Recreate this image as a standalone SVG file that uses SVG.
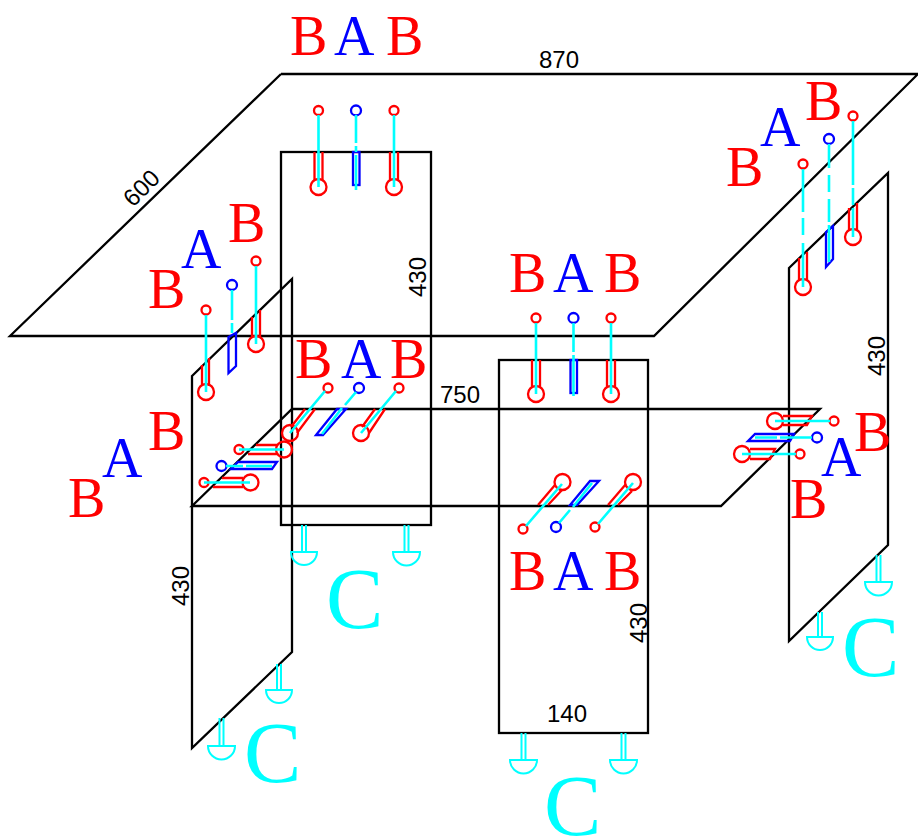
<svg xmlns="http://www.w3.org/2000/svg" width="918" height="836" viewBox="0 0 918 836">
<style>
.k{fill:none;stroke:#000;stroke-width:2.300}
.r{fill:none;stroke:#f00;stroke-width:2.300}
.b{fill:none;stroke:#00f;stroke-width:2.300}
.c{fill:none;stroke:#0ff;stroke-width:2.600}
.f{fill:none;stroke:#0ff;stroke-width:2}
.t{font-family:"Liberation Sans",Arial,sans-serif;font-size:24px;fill:#000}
.l{font-family:"Liberation Serif","Times New Roman",serif;font-size:56px}
.lr{fill:#f00}.lb{fill:#00f}
.lc{font-family:"Liberation Serif","Times New Roman",serif;font-size:86px;fill:#0ff}
</style>
<rect width="918" height="836" fill="#fff"/>
<g id="top-plate"><path class="k" d="M281 74H918M918 74L654 336H10L281 74"/><text class="t" x="539" y="68">870</text><text class="t" transform="translate(133,208) rotate(-45)">600</text></g>
<g id="back-panel"><rect class="k" x="281" y="152" width="150" height="373"/><text class="t" transform="translate(426,297) rotate(-90)">430</text></g>
<g id="left-panel"><path class="k" d="M192 376L292 279V652L192 748Z"/><text class="t" transform="translate(189,606) rotate(-90)">430</text></g>
<g id="center-panel"><rect class="k" x="499" y="360" width="149" height="373"/><text class="t" x="547" y="722">140</text><text class="t" transform="translate(647,643) rotate(-90)">430</text></g>
<g id="right-panel"><path class="k" d="M789 268L888 173V545L789 641Z"/><text class="t" transform="translate(885,376) rotate(-90)">430</text></g>
<g id="lower-plate"><path class="k" d="M292 409H820L721 506H192Z"/><text class="t" x="440" y="403">750</text></g>

<g id="connectors">
<g id="bars-back-top"><path class="r" d="M314.500 152V180M322.500 152V180M390 152V180M398 152V180"/><circle class="r" cx="318.500" cy="110.500" r="4.500"/><circle class="r" cx="394" cy="110.500" r="4.500"/><circle class="r" cx="318.500" cy="187" r="8"/><circle class="r" cx="394" cy="187" r="8"/><circle class="b" cx="356" cy="110.500" r="5"/><rect class="b" x="353" y="152" width="6.500" height="33"/><path class="c" d="M318.500 115V187M394 115V187M356 115V143M356 146V152M356 155V190"/></g>
<g id="bars-center-top"><path class="r" d="M532 360V387M540 360V387M607 360V387M615 360V387"/><circle class="r" cx="536" cy="318" r="4.500"/><circle class="r" cx="611" cy="318" r="4.500"/><circle class="r" cx="536" cy="394" r="8"/><circle class="r" cx="611" cy="394" r="8"/><circle class="b" cx="573.500" cy="318" r="5"/><rect class="b" x="570.500" y="360" width="6.500" height="33"/><path class="c" d="M536 323V394M611 323V394M573.500 323V352M573.500 355V396"/></g>
<g id="bars-left-top"><path class="r" d="M202 365V386M209 358V386M252 317V338M260 310V338"/><circle class="r" cx="206" cy="310" r="4.500"/><circle class="r" cx="256" cy="261" r="4.500"/><circle class="r" cx="206" cy="392" r="8"/><circle class="r" cx="256" cy="344" r="8"/><circle class="b" cx="232" cy="285" r="5"/><path class="b" d="M228.500 337L236 333V366L228.500 373Z"/><path class="c" d="M206 315V392M256 266V344M232 290V320M232 323V333"/></g>
<g id="bars-lower-back"><path class="r" d="M305 409L291 427M315 409L297 433M375 409L362 427M385 409L369 433"/><circle class="r" cx="328" cy="388" r="4.500"/><circle class="r" cx="399" cy="388" r="4.500"/><circle class="r" cx="290" cy="433" r="8"/><circle class="r" cx="361" cy="433" r="8"/><circle class="b" cx="359" cy="388" r="5"/><path class="b" d="M337 409H346L323 435H316Z"/><path class="c" d="M325 391L290 433M396 391L361 433M356 392L345 405M342 408L322 434"/></g>
<g id="bars-lower-left"><path class="r" d="M256 445H277M248 454H277M222 478H243M213 487H243"/><circle class="r" cx="239" cy="449.500" r="4.500"/><circle class="r" cx="204" cy="482.500" r="4.500"/><circle class="r" cx="284" cy="449.500" r="8"/><circle class="r" cx="250.500" cy="482.500" r="8"/><circle class="b" cx="221.500" cy="466" r="5"/><path class="b" d="M238 462H277L272 469H231Z"/><path class="c" d="M239 449.500H284M204 482.500H250M226 466H243M246 466H272"/></g>
<g id="bars-lower-center"><path class="r" d="M538 505L555 485M548 505L562 490M608 505L626 484M618 505L632 491"/><circle class="r" cx="523" cy="529" r="4.500"/><circle class="r" cx="595" cy="527" r="4.500"/><circle class="r" cx="562.500" cy="482" r="8"/><circle class="r" cx="633" cy="482" r="8"/><circle class="b" cx="556" cy="527" r="5"/><path class="b" d="M590 481H599L577 505H570Z"/><path class="c" d="M526 526L562 484M598 524L633 483M559 523L570 510M573 507L592 483"/></g>
<g id="bars-lower-right"><path class="r" d="M783 416H812L807 425H783M750 449H775L770 459H750"/><circle class="r" cx="834" cy="421" r="4.500"/><circle class="r" cx="800" cy="454" r="4.500"/><circle class="r" cx="775" cy="421" r="8"/><circle class="r" cx="742" cy="454" r="8"/><circle class="b" cx="817" cy="437.500" r="5"/><path class="b" d="M755 434H794L790 441H748Z"/><path class="c" d="M775 421H830M742 454H796M755 437.500H777M780 437.500H812"/></g>
<g id="bars-right-top"><path class="r" d="M799 258V280M807 252V280M849 208V231M857 203V231"/><circle class="r" cx="803" cy="164" r="4.500"/><circle class="r" cx="853" cy="116" r="4.500"/><circle class="r" cx="803" cy="287" r="8"/><circle class="r" cx="853" cy="237" r="8"/><circle class="b" cx="829" cy="139" r="5"/><path class="b" d="M826 232L833 226V259L826 267Z"/><path class="c" d="M803 169V212M803 218V235M803 243V287M829 144V168M829 175V192M829 199V222M829 225V262M853 121V185M853 188V205M853 208V237"/></g>
<g id="feet"><path class="f" d="M302 525V552M306 525V552M404.500 525V552M408.500 525V552M219.500 718V746M223.500 718V746M277 664V690M281 664V690M521.500 733V760M525.500 733V760M621.500 733V760M625.500 733V760M818 612V637M822 612V637M876.500 555V582M880.500 555V582"/>
<path class="f" d="M291 552H317A13 13 0 0 1 291 552ZM393 552H420A13.500 13.500 0 0 1 393 552ZM208 746H235A13.500 13.500 0 0 1 208 746ZM266 690H292A13 13 0 0 1 266 690ZM510 760H537A13.500 13.500 0 0 1 510 760ZM610 760H637A13.500 13.500 0 0 1 610 760ZM807 637H833A13 13 0 0 1 807 637ZM865 582H892A13.500 13.500 0 0 1 865 582Z"/></g>
</g>

<g id="labels">
<g class="l lr"><text x="290" y="55">B</text><text x="386" y="55">B</text><text x="726" y="186">B</text><text x="805" y="120">B</text><text x="148" y="308">B</text><text x="228" y="242">B</text><text x="295" y="378">B</text><text x="390" y="378">B</text><text x="509" y="292">B</text><text x="604" y="292">B</text><text x="148" y="450">B</text><text x="68" y="517">B</text><text x="509" y="590">B</text><text x="604" y="590">B</text><text x="854" y="451">B</text><text x="790" y="518">B</text></g>
<g class="l lb"><text x="334" y="55">A</text><text x="760" y="146">A</text><text x="181" y="268">A</text><text x="341" y="378">A</text><text x="553" y="292">A</text><text x="102" y="477">A</text><text x="553" y="590">A</text><text x="821" y="476">A</text></g>
<g class="lc"><text x="326" y="628">C</text><text x="244" y="782">C</text><text x="544" y="835">C</text><text x="842" y="676">C</text></g>
</g>
</svg>
